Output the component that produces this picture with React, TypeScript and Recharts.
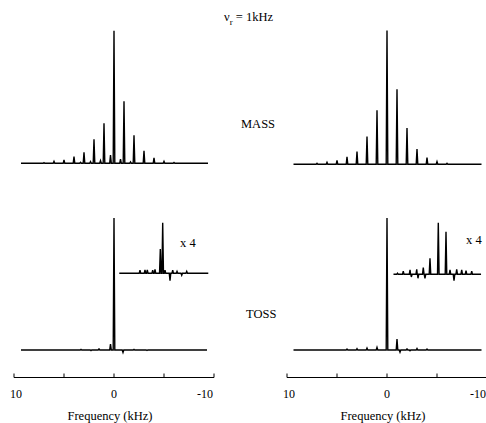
import React from 'react';
import { LineChart, Line, XAxis, YAxis } from 'recharts';

// peak lists: [frequency kHz, intensity], main centre band = 100
const massLeftPeaks: [number, number][] = [
  [7, 0.5], [6, 1.5], [5, 2.5], [4, 5.0], [3, 8.3], [2, 18.1], [1, 30.2], [0, 100],
  [-1, 46.8], [-2, 21.1], [-3, 9.5], [-4, 4.2], [-5, 1.5], [-6, 0.6],
  [3.35, 0.7], [2.35, 1.3], [1.35, 2.0], [0.35, 6.3], [-0.65, 3.2], [-1.65, 1.1],
];
const massRightPeaks: [number, number][] = [
  [7, 0.7], [6, 1.5], [5, 3.0], [4, 5.5], [3, 9.5], [2, 20.7], [1, 40.4], [0, 100],
  [-1, 56.1], [-2, 27.2], [-3, 11.4], [-4, 5.0], [-5, 2.0], [-6, 0.7],
];
const tossLeftPeaks: [number, number][] = [
  [3.3, 0.5], [2.3, -0.5], [1.5, 0.8], [0.35, 4.5], [0, 100], [-0.9, -1.9], [-2, 0.5], [-3.3, -0.4],
];
const tossRightPeaks: [number, number][] = [
  [4, 0.7], [3, 1.0], [2, 1.5], [1, 2.0], [0, 100], [-1, 8.3], [-1.3, -1.7],
  [-2, 0.8], [-2.3, -0.6], [-3, 1.1], [-4, 0.7],
];
// x4 expansions (same intensity units as the TOSS traces)
const insetLeftPeaks: [number, number][] = [
  [2.95, 2.3], [2.3, 2.5], [2.0, 2.5], [1.3, 2.3], [1.0, 3.0], [0.31, 18.4], [0, 38.3],
  [-0.3, 2.3], [-0.95, -5.5], [-1.3, 2.3], [-1.86, 1.5], [-2.47, -1.5], [-3.12, 1.5],
];
const insetRightPeaks: [number, number][] = [
  [5.3, 0.8], [4.55, 2.3], [3.67, 3.3], [3.5, -2.0], [2.8, 3.8], [2.64, -3.0], [1.95, 5.1],
  [1.73, -3.0], [1.08, 12.1], [0, 39.1], [-1.0, 32.3], [-1.52, 3.3], [-2.04, -4.8],
  [-2.39, 3.8], [-3.04, 3.3], [-3.6, 2.8], [-4.34, 2.3],
];

// recorded spectral windows [from, to] in kHz
const massLeftSpan = [9.3, -9.4];
const massRightSpan = [9.35, -9.45];
const tossLeftSpan = [9.3, -9.3];
const tossRightSpan = [9.35, -9.45];
const insetLeftSpan = [5.64, -5.92];
const insetRightSpan = [5.82, -5.55];

const freqTicks = [10, 5, 0, -5, -10];
const freqLabels = [10, 0, -10];

const FONT = '"Liberation Serif", "DejaVu Serif", serif';
const PLOT_BOTTOM = 377.5;

function stick(peaks: [number, number][], span: number[], w: number) {
  const pts = [{ f: span[0], h: 0 }, { f: span[1], h: 0 }];
  peaks.forEach(([f, h]) => {
    pts.push({ f: f + w, h: 0 }, { f, h }, { f: f - w, h: 0 });
  });
  return pts.sort((a, b) => b.f - a.f);
}

// baseline pixel b, pixel height of 100 units
const yDomain = (b: number, px: number) => [((b - PLOT_BOTTOM) * 100) / px, (b * 100) / px];
// inset x axis: 0 kHz at pixel c, s px per kHz, plot from l to r
const insetDomain = (c: number, s: number, l: number, r: number) => [(c - r) / s, (c - l) / s];

const FreqTick = (props: any) => {
  const { x, y, payload } = props;
  const v = payload.value;
  const dx = v === -10 ? -9 : v === 10 ? 2 : 0;
  return (
    <g>
      <line x1={x} x2={x} y1={y - 8} y2={y - 12} stroke="#000" strokeWidth={1} />
      {freqLabels.includes(v) && (
        <text x={x + dx} y={y + 12.5} textAnchor="middle" fontFamily={FONT} fontSize={12} fill="#000">
          {v}
        </text>
      )}
    </g>
  );
};

function Column({ left, width, margin, mass, toss, inset, massB, massH, tossB, insetB, insetC }: any) {
  const plotL = left + margin.left;
  const plotR = left + width - margin.right;
  const line = { type: 'linear' as const, dataKey: 'h', stroke: '#000', strokeWidth: 1.4, dot: false, isAnimationActive: false };
  return (
    <div style={{ position: 'absolute', left, top: 0 }}>
      <LineChart width={width} height={423} margin={{ top: 0, bottom: 15.5, ...margin }}>
        <XAxis
          dataKey="f"
          type="number"
          domain={[-10, 10]}
          reversed
          ticks={freqTicks}
          interval={0}
          tickLine={false}
          axisLine={{ stroke: '#000', strokeWidth: 1 }}
          tick={<FreqTick />}
          height={30}
        />
        <XAxis
          xAxisId="inset"
          dataKey="f"
          type="number"
          domain={insetDomain(insetC - left, 7.7, plotL - left, plotR - left)}
          reversed
          hide
        />
        <YAxis yAxisId="mass" type="number" domain={yDomain(massB, massH)} hide />
        <YAxis yAxisId="toss" type="number" domain={yDomain(tossB, 132)} hide />
        <YAxis yAxisId="inset" type="number" domain={yDomain(insetB, 132)} hide />
        <Line {...line} yAxisId="mass" data={mass} />
        <Line {...line} yAxisId="toss" data={toss} />
        <Line {...line} yAxisId="inset" xAxisId="inset" data={inset} />
      </LineChart>
    </div>
  );
}

export default function App() {
  const txt = { fontFamily: FONT, fontSize: 12.5, fill: '#000' };
  return (
    <div style={{ position: 'relative', width: 486, height: 423, overflow: 'hidden', background: '#fff' }}>
      <style>{'body{margin:0}'}</style>
      <Column
        left={0}
        width={243}
        margin={{ left: 14, right: 29 }}
        mass={stick(massLeftPeaks, massLeftSpan, 0.08)}
        toss={stick(tossLeftPeaks, tossLeftSpan, 0.08)}
        inset={stick(insetLeftPeaks, insetLeftSpan, 0.1)}
        massB={163.3}
        massH={132.6}
        tossB={350}
        insetB={273.3}
        insetC={162.7}
      />
      <Column
        left={243}
        width={245}
        margin={{ left: 44, right: 1 }}
        mass={stick(massRightPeaks, massRightSpan, 0.08)}
        toss={stick(tossRightPeaks, tossRightSpan, 0.08)}
        inset={stick(insetRightPeaks, insetRightSpan, 0.1)}
        massB={164.3}
        massH={133.7}
        tossB={350}
        insetB={274.3}
        insetC={438.3}
      />
      <svg width={486} height={423} style={{ position: 'absolute', left: 0, top: 0, pointerEvents: 'none' }}>
        <text x={224} y={21} {...txt}>
          ν<tspan fontSize={9} dy={4}>r</tspan>
          <tspan dy={-4}> = 1kHz</tspan>
        </text>
        <text x={241} y={127.5} {...txt}>MASS</text>
        <text x={246} y={318} {...txt}>TOSS</text>
        <text x={180} y={247} {...txt}>x 4</text>
        <text x={466} y={244} {...txt}>x 4</text>
        <text x={110} y={420} textAnchor="middle" {...txt}>Frequency (kHz)</text>
        <text x={383} y={420} textAnchor="middle" {...txt}>Frequency (kHz)</text>
      </svg>
    </div>
  );
}
